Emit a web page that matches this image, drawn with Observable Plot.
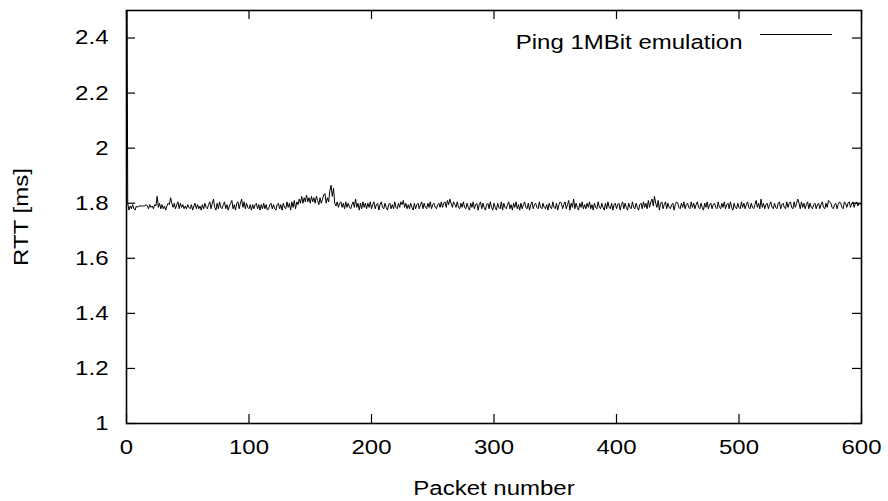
<!DOCTYPE html>
<html>
<head>
<meta charset="utf-8">
<script src="https://cdn.jsdelivr.net/npm/d3@7"></script>
<script src="https://cdn.jsdelivr.net/npm/@observablehq/plot@0.6"></script>
<style>
  html, body { margin: 0; padding: 0; background: #fff; }
  #chart svg { display: block; }
</style>
</head>
<body>
<div id="chart"></div>
<script>
// ---- Data ----
const seriesLabel = "Ping 1MBit emulation";
const xLabel = "Packet number";
const yLabel = "RTT [ms]";
const xTicks = [0, 100, 200, 300, 400, 500, 600];
const yTicks = [1, 1.2, 1.4, 1.6, 1.8, 2, 2.2, 2.4];
const xDomain = [0, 600];
const yDomain = [1, 2.5];

// RTT per packet, packets 0-99
const rttA = [
3.2, 1.80, 1.775, 1.79, 1.78, 1.795, 1.78, 1.775, 1.79, 1.785,
1.79, 1.79, 1.79, 1.79, 1.79, 1.79, 1.795, 1.79, 1.78, 1.795,
1.785, 1.79, 1.78, 1.795, 1.79, 1.825, 1.785, 1.80, 1.78, 1.795,
1.78, 1.79, 1.775, 1.79, 1.80, 1.795, 1.82, 1.80, 1.785, 1.80,
1.78, 1.795, 1.805, 1.78, 1.80, 1.785, 1.795, 1.78, 1.79, 1.78,
1.795, 1.785, 1.78, 1.795, 1.775, 1.79, 1.80, 1.78, 1.795, 1.78,
1.79, 1.775, 1.795, 1.78, 1.80, 1.785, 1.78, 1.795, 1.805, 1.78,
1.80, 1.815, 1.785, 1.775, 1.80, 1.78, 1.805, 1.785, 1.78, 1.795,
1.805, 1.78, 1.795, 1.775, 1.79, 1.80, 1.81, 1.78, 1.795, 1.775,
1.80, 1.805, 1.78, 1.80, 1.815, 1.785, 1.805, 1.78, 1.80, 1.785];
// packets 100-199
const rttB = [
1.78, 1.795, 1.775, 1.795, 1.78, 1.795, 1.80, 1.78, 1.795, 1.775,
1.795, 1.78, 1.80, 1.78, 1.795, 1.775, 1.78, 1.795, 1.80, 1.78,
1.795, 1.78, 1.775, 1.795, 1.80, 1.78, 1.795, 1.775, 1.80, 1.785,
1.78, 1.805, 1.785, 1.80, 1.775, 1.805, 1.785, 1.81, 1.78, 1.805,
1.795, 1.815, 1.80, 1.825, 1.80, 1.82, 1.805, 1.83, 1.805, 1.82,
1.80, 1.825, 1.805, 1.82, 1.80, 1.825, 1.81, 1.795, 1.82, 1.80,
1.815, 1.83, 1.835, 1.80, 1.82, 1.805, 1.845, 1.865, 1.825, 1.855,
1.80, 1.79, 1.805, 1.785, 1.80, 1.805, 1.785, 1.80, 1.78, 1.805,
1.785, 1.80, 1.785, 1.78, 1.795, 1.805, 1.785, 1.815, 1.785, 1.80,
1.775, 1.80, 1.78, 1.805, 1.785, 1.80, 1.78, 1.80, 1.785, 1.805];
// packets 200-299
const rttC = [
1.78, 1.795, 1.805, 1.78, 1.795, 1.80, 1.775, 1.795, 1.805, 1.785,
1.78, 1.80, 1.785, 1.775, 1.795, 1.80, 1.78, 1.795, 1.78, 1.805,
1.785, 1.78, 1.80, 1.785, 1.805, 1.795, 1.81, 1.785, 1.80, 1.78,
1.795, 1.78, 1.80, 1.785, 1.775, 1.80, 1.78, 1.795, 1.80, 1.78,
1.795, 1.805, 1.78, 1.80, 1.785, 1.78, 1.80, 1.785, 1.805, 1.78,
1.795, 1.80, 1.785, 1.78, 1.795, 1.80, 1.785, 1.805, 1.785, 1.80,
1.805, 1.785, 1.81, 1.795, 1.815, 1.80, 1.785, 1.805, 1.795, 1.785,
1.805, 1.785, 1.78, 1.80, 1.785, 1.805, 1.785, 1.78, 1.80, 1.785,
1.775, 1.80, 1.785, 1.805, 1.78, 1.795, 1.80, 1.775, 1.795, 1.805,
1.78, 1.80, 1.785, 1.775, 1.795, 1.80, 1.78, 1.805, 1.785, 1.775];
// packets 300-399
const rttD = [
1.80, 1.785, 1.775, 1.80, 1.785, 1.78, 1.805, 1.775, 1.80, 1.785,
1.78, 1.795, 1.805, 1.78, 1.795, 1.775, 1.80, 1.785, 1.805, 1.78,
1.795, 1.775, 1.80, 1.78, 1.795, 1.805, 1.785, 1.78, 1.80, 1.775,
1.795, 1.805, 1.78, 1.795, 1.80, 1.785, 1.78, 1.805, 1.785, 1.78,
1.80, 1.785, 1.78, 1.795, 1.775, 1.80, 1.785, 1.78, 1.805, 1.785,
1.78, 1.80, 1.775, 1.795, 1.805, 1.80, 1.78, 1.795, 1.805, 1.78,
1.795, 1.81, 1.775, 1.80, 1.785, 1.815, 1.78, 1.80, 1.785, 1.775,
1.80, 1.785, 1.805, 1.78, 1.795, 1.78, 1.80, 1.785, 1.805, 1.78,
1.795, 1.775, 1.80, 1.785, 1.78, 1.805, 1.785, 1.78, 1.80, 1.785,
1.775, 1.80, 1.78, 1.805, 1.785, 1.78, 1.80, 1.775, 1.795, 1.80];
// packets 400-499
const rttE = [
1.78, 1.795, 1.80, 1.775, 1.795, 1.805, 1.78, 1.80, 1.785, 1.775,
1.80, 1.785, 1.78, 1.805, 1.785, 1.78, 1.80, 1.785, 1.775, 1.795,
1.80, 1.78, 1.805, 1.785, 1.80, 1.78, 1.81, 1.785, 1.805, 1.815,
1.79, 1.825, 1.80, 1.785, 1.81, 1.775, 1.80, 1.805, 1.78, 1.795,
1.805, 1.78, 1.80, 1.785, 1.78, 1.795, 1.80, 1.775, 1.795, 1.805,
1.80, 1.785, 1.78, 1.80, 1.785, 1.805, 1.78, 1.795, 1.80, 1.785,
1.78, 1.805, 1.785, 1.80, 1.78, 1.795, 1.805, 1.785, 1.78, 1.80,
1.785, 1.775, 1.80, 1.785, 1.805, 1.78, 1.795, 1.80, 1.78, 1.795,
1.80, 1.785, 1.78, 1.805, 1.785, 1.78, 1.80, 1.785, 1.805, 1.78,
1.795, 1.80, 1.78, 1.805, 1.785, 1.775, 1.80, 1.785, 1.78, 1.80];
// packets 500-600
const rttF = [
1.785, 1.78, 1.805, 1.785, 1.80, 1.78, 1.795, 1.805, 1.785, 1.78,
1.80, 1.785, 1.78, 1.795, 1.81, 1.785, 1.80, 1.78, 1.815, 1.785,
1.80, 1.78, 1.795, 1.80, 1.78, 1.795, 1.805, 1.785, 1.78, 1.80,
1.785, 1.78, 1.80, 1.805, 1.78, 1.795, 1.80, 1.785, 1.78, 1.805,
1.785, 1.80, 1.805, 1.785, 1.78, 1.805, 1.785, 1.80, 1.815, 1.80,
1.78, 1.805, 1.785, 1.80, 1.78, 1.795, 1.805, 1.78, 1.80, 1.785,
1.78, 1.795, 1.80, 1.78, 1.795, 1.80, 1.78, 1.795, 1.805, 1.785,
1.78, 1.80, 1.785, 1.81, 1.805, 1.80, 1.785, 1.78, 1.795, 1.80,
1.78, 1.795, 1.805, 1.80, 1.785, 1.78, 1.805, 1.80, 1.785, 1.80,
1.805, 1.785, 1.80, 1.805, 1.785, 1.80, 1.805, 1.79, 1.80, 1.795, 1.80];

// ---- Build table ----
const rtt = [...rttA, ...rttB, ...rttC, ...rttD, ...rttE, ...rttF];
const data = rtt.map((v, i) => ({packet: i, rtt: v}));

// ---- Layout ----
const W = 888, H = 501;
const mL = 126, mR = 27, mT = 10, mB = 78;
const fw = W - mL - mR, fh = H - mT - mB;
const tick = 9;

const chart = Plot.plot({
  width: W, height: H,
  marginLeft: mL, marginRight: mR, marginTop: mT, marginBottom: mB,
  style: {fontFamily: "'Liberation Sans', Arial, sans-serif", fontSize: "20px", color: "#000", background: "#fff"},
  x: {domain: xDomain, ticks: xTicks},
  y: {domain: yDomain, ticks: yTicks},
  marks: [
    // inward tick marks on all four sides
    Plot.ruleX(xTicks, {stroke: "#000", strokeWidth: 1.2, insetTop: fh - tick}),
    Plot.ruleX(xTicks, {stroke: "#000", strokeWidth: 1.2, insetBottom: fh - tick}),
    Plot.ruleY(yTicks, {stroke: "#000", strokeWidth: 1.2, insetRight: fw - tick}),
    Plot.ruleY(yTicks, {stroke: "#000", strokeWidth: 1.2, insetLeft: fw - tick}),
    Plot.axisX(xTicks, {tickSize: 0, tickPadding: 16, label: xLabel, labelAnchor: "center", labelOffset: 71, labelArrow: "none", tickFormat: d => String(d)}),
    Plot.axisY(yTicks, {tickSize: 0, tickPadding: 18, label: yLabel, labelAnchor: "center", labelOffset: 113, labelArrow: "none", tickFormat: d => String(d)}),
    Plot.line(data, {x: "packet", y: "rtt", stroke: "#000", strokeWidth: 1, clip: true}),
    // legend
    Plot.text([seriesLabel], {frameAnchor: "top-right", dx: -119, dy: 24, textAnchor: "end", fill: "#000"}),
    Plot.ruleY([yDomain[1]], {stroke: "#000", strokeWidth: 1, insetLeft: 634, insetRight: 29, dy: 24}),
    Plot.frame({stroke: "#000", strokeWidth: 1.6})
  ]
});
document.getElementById("chart").append(chart);

// gnuplot text in the reference is horizontally wider than Arial; stretch glyphs
const stretch = 1.2;
chart.querySelectorAll("text").forEach(t => {
  const w = t.getComputedTextLength();
  if (w > 0) {
    t.setAttribute("textLength", (w * stretch).toFixed(1));
    t.setAttribute("lengthAdjust", "spacingAndGlyphs");
  }
});
</script>
</body>
</html>
